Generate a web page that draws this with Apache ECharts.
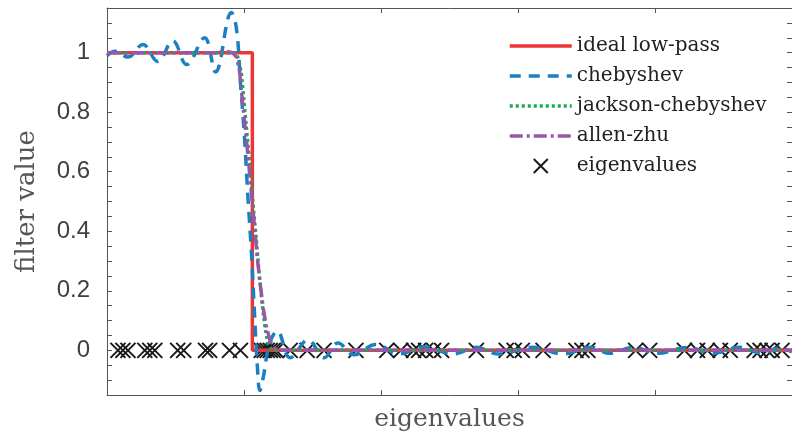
<!DOCTYPE html>
<html>
<head>
<meta charset="utf-8">
<script src="https://cdn.jsdelivr.net/npm/echarts@6/dist/echarts.min.js"></script>
<style>html,body{margin:0;padding:0;background:#fff}#c{width:792px;height:441px}</style>
</head>
<body>
<div id="c"></div>
<script>
// ---- data ----
const eigenvalues = [0.080,0.116,0.153,0.276,0.312,0.349,0.516,0.560,0.719,0.749,0.894,0.974,
  1.126,1.148,1.170,1.192,1.214,1.235,1.337,1.461,1.584,1.817,2.042,2.144,2.238,2.275,2.326,2.384,
  2.442,2.696,2.914,2.972,3.031,3.183,3.423,3.467,3.510,3.859,3.961,4.215,4.310,4.382,4.477,4.549,
  4.724,4.767,4.818,4.855,4.927];

const idealX = [0, 1.061, 1.061, 5];
const idealY = [1, 1, 0, 0];

const chebX = [0.000,0.058,0.153,0.262,0.371,0.480,0.581,0.712,0.792,0.908,0.945,0.974,1.003,1.028,
  1.054,1.076,1.097,1.116,1.141,1.185,1.243,1.337,1.468,1.584,1.686,1.802,1.962,2.129,2.311,2.529,
  2.696,2.856,3.110,3.328,3.532,3.670,3.837,4.019,4.237,4.419,4.622,4.782,4.906,5.000];
const chebY = [0.990,1.005,0.985,1.027,0.970,1.040,0.960,1.050,0.935,1.135,1.080,0.900,0.720,0.520,
  0.330,0.130,-0.050,-0.135,-0.090,0.020,0.065,-0.025,0.035,-0.025,0.025,-0.015,0.020,-0.012,0.012,-0.012,
  0.010,-0.012,0.010,-0.012,0.010,-0.010,0.010,-0.010,0.010,-0.010,0.010,-0.010,0.008,-0.005];

const jackX = [0.000,0.900,0.938,0.959,0.981,1.003,1.025,1.047,1.068,1.090,1.112,1.134,1.156,1.177,1.206,5.000];
const jackY = [1.000,1.000,1.000,0.980,0.930,0.820,0.710,0.600,0.480,0.370,0.250,0.150,0.070,0.020,0.000,0.000];

const azX = [0.000,0.799,0.858,0.916,0.945,0.967,0.988,1.010,1.032,1.054,1.076,1.097,1.119,1.141,1.163,1.192,1.228,1.272,5.000];
const azY = [1.000,1.000,1.006,1.000,0.985,0.940,0.840,0.740,0.640,0.530,0.420,0.310,0.220,0.140,0.080,0.030,0.005,0.000,0.000];

const yTickLabels = ['0','0.2','0.4','0.6','0.8','1'];
const legendNames = ['ideal low-pass','chebyshev','jackson-chebyshev','allen-zhu','eigenvalues'];

// ---- chart ----
const zip = (xs, ys) => xs.map((x, i) => [x, ys[i]]);
const chart = echarts.init(document.getElementById('c'), null, {renderer: 'canvas'});
const axisColor = '#555';
const serif = 'DejaVu Serif';
const sans = 'Liberation Sans';
const lineTypes = ['solid', [11, 8], [3, 3], [13, 4, 3, 4]];

chart.setOption({
  animation: false,
  backgroundColor: '#fff',
  grid: {left: 107, top: 8, width: 688, height: 387, containLabel: false},
  legend: {
    orient: 'vertical', left: 508, top: 35, padding: 0,
    itemWidth: 62, itemHeight: 14, itemGap: 8, selectedMode: false,
    textStyle: {fontFamily: serif, fontSize: 20, color: '#222', lineHeight: 22},
    data: legendNames.map((n, i) => i < 4
      ? {name: n, itemStyle: {opacity: 0}, lineStyle: {width: 3.5, type: lineTypes[i]}}
      : {name: n, itemStyle: {opacity: 1}})
  },
  xAxis: [
    {type: 'value', min: 0, max: 5, interval: 1, position: 'bottom',
     name: 'eigenvalues', nameLocation: 'middle', nameGap: 12,
     nameTextStyle: {fontFamily: serif, fontSize: 25, color: '#555', verticalAlign: 'top'},
     axisLine: {show: true, onZero: false, lineStyle: {color: axisColor, width: 1}},
     axisTick: {show: true, inside: true, length: 5, lineStyle: {color: axisColor}},
     axisLabel: {show: false}, splitLine: {show: false}},
    {type: 'value', min: 0, max: 5, interval: 1, position: 'top',
     axisLine: {show: true, onZero: false, lineStyle: {color: axisColor, width: 1}},
     axisTick: {show: true, inside: true, length: 5, lineStyle: {color: axisColor}},
     axisLabel: {show: false}, splitLine: {show: false}}
  ],
  yAxis: [
    {type: 'value', min: -0.15, max: 1.15, interval: 0.05, position: 'left',
     name: 'filter value', nameLocation: 'middle', nameGap: 67, nameRotate: 90,
     nameTextStyle: {fontFamily: serif, fontSize: 26, color: '#555'},
     axisLine: {show: true, onZero: false, lineStyle: {color: axisColor, width: 1}},
     axisTick: {show: true, inside: true, length: 5, lineStyle: {color: axisColor}},
     axisLabel: {show: true, margin: 17, fontFamily: sans, fontSize: 24, color: '#404040',
       formatter: function (v) {
         const k = Math.round(v * 100);
         if (k >= 0 && k % 20 === 0) return yTickLabels[k / 20];
         return '';
       }},
     splitLine: {show: false}},
    {type: 'value', min: -0.15, max: 1.15, interval: 0.05, position: 'right',
     axisLine: {show: true, onZero: false, lineStyle: {color: axisColor, width: 1}},
     axisTick: {show: true, inside: true, length: 5, lineStyle: {color: axisColor}},
     axisLabel: {show: false}, splitLine: {show: false}}
  ],
  series: [
    {name: 'ideal low-pass', type: 'line', data: zip(idealX, idealY), symbol: 'none', showSymbol: false,
     color: '#ee3535', lineStyle: {color: '#ee3535', width: 3.5, type: lineTypes[0]}},
    {name: 'chebyshev', type: 'line', data: zip(chebX, chebY), symbol: 'none', showSymbol: false, smooth: 0.4,
     color: '#1b80c0', lineStyle: {color: '#1b80c0', width: 3.5, type: lineTypes[1]}},
    {name: 'jackson-chebyshev', type: 'line', data: zip(jackX, jackY), symbol: 'none', showSymbol: false,
     color: '#18aa52', lineStyle: {color: '#18aa52', width: 3.5, type: lineTypes[2]}},
    {name: 'allen-zhu', type: 'line', data: zip(azX, azY), symbol: 'none', showSymbol: false,
     color: '#9a55a8', lineStyle: {color: '#9a55a8', width: 3.5, type: lineTypes[3]}},
    {name: 'eigenvalues', type: 'scatter', data: eigenvalues.map(v => [v, 0]),
     symbol: 'path://M0,0L10,10M10,0L0,10', symbolSize: 15, symbolKeepAspect: true,
     color: '#1a1a1a',
     itemStyle: {color: '#1a1a1a', borderColor: '#1a1a1a', borderWidth: 2, opacity: 1}}
  ]
});
</script>
</body>
</html>
